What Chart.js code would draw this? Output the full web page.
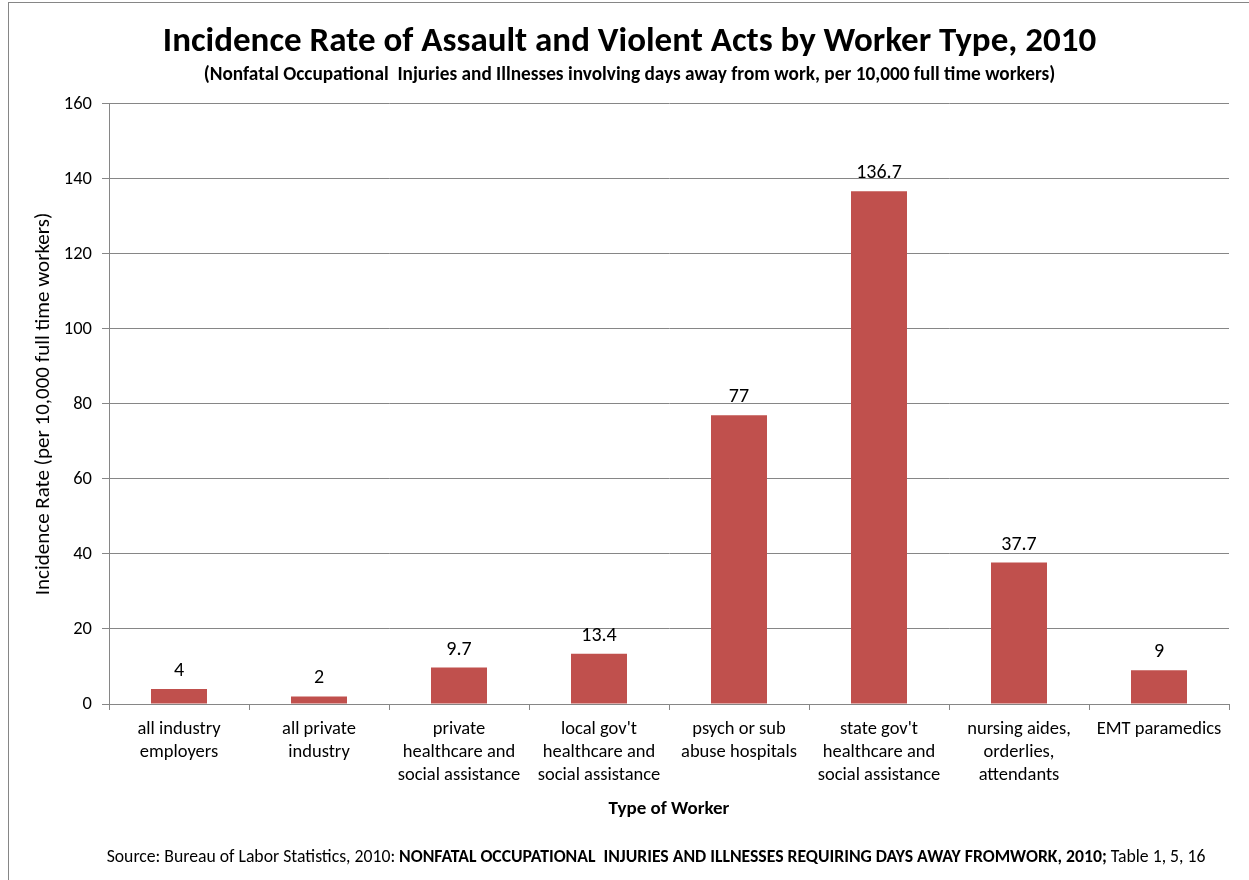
<!DOCTYPE html>
<html>
<head>
<meta charset="utf-8">
<script src="https://cdn.jsdelivr.net/npm/chart.js@4.4.1/dist/chart.umd.min.js"></script>
<style>
  html, body { margin: 0; padding: 0; background: #fff; }
  #wrap { position: relative; width: 1249px; height: 880px; }
</style>
</head>
<body>
<div id="wrap"><canvas id="c" width="1249" height="880"></canvas></div>
<script>
const categories = [
  ["all industry", "employers"],
  ["all private", "industry"],
  ["private", "healthcare and", "social assistance"],
  ["local gov't", "healthcare and", "social assistance"],
  ["psych or sub", "abuse hospitals"],
  ["state gov't", "healthcare and", "social assistance"],
  ["nursing aides,", "orderlies,", "attendants"],
  ["EMT paramedics"]
];
const incidenceRates = [4, 2, 9.7, 13.4, 77, 136.7, 37.7, 9];
const yTicks = [0, 20, 40, 60, 80, 100, 120, 140, 160];

const titleText = "Incidence Rate of Assault and Violent Acts by Worker Type, 2010";
const subtitleText = "(Nonfatal Occupational  Injuries and Illnesses involving days away from work, per 10,000 full time workers)";
const yAxisTitle = "Incidence Rate (per 10,000 full time workers)";
const xAxisTitle = "Type of Worker";
const sourceParts = [
  { text: "Source: Bureau of Labor Statistics, 2010: ", bold: false },
  { text: "NONFATAL OCCUPATIONAL  INJURIES AND ILLNESSES REQUIRING DAYS AWAY FROMWORK, 2010;", bold: true },
  { text: " Table 1, 5, 16", bold: false }
];

const FONT = "Carlito, Lato, 'Open Sans', sans-serif";
const GRID = "#868686";
const BAR = "#C0504D";

const frameAndNotes = {
  id: "frameAndNotes",
  beforeDraw(chart) {
    const ctx = chart.ctx;
    ctx.save();
    ctx.fillStyle = "#fff";
    ctx.fillRect(0, 0, chart.width, chart.height);
    ctx.strokeStyle = GRID;
    ctx.lineWidth = 1;
    ctx.strokeRect(8.5, 2.5, 1400, 1000);
    ctx.restore();
  },
  afterDraw(chart) {
    const ctx = chart.ctx;
    ctx.save();
    ctx.fillStyle = "#000";
    ctx.textBaseline = "middle";
    const size = 17.7;
    let total = 0;
    const widths = sourceParts.map(p => {
      ctx.font = (p.bold ? "bold " : "") + size + "px " + FONT;
      const w = ctx.measureText(p.text).width;
      total += w;
      return w;
    });
    let x = 656 - total / 2;
    sourceParts.forEach((p, i) => {
      ctx.font = (p.bold ? "bold " : "") + size + "px " + FONT;
      ctx.textAlign = "left";
      ctx.fillText(p.text, x, 858);
      x += widths[i];
    });
    ctx.restore();
  }
};

const valueLabels = {
  id: "valueLabels",
  afterDatasetsDraw(chart) {
    const ctx = chart.ctx;
    const meta = chart.getDatasetMeta(0);
    ctx.save();
    ctx.fillStyle = "#000";
    ctx.font = "20px " + FONT;
    ctx.textAlign = "center";
    ctx.textBaseline = "alphabetic";
    meta.data.forEach((el, i) => {
      ctx.fillText(String(chart.data.datasets[0].data[i]), el.x, el.y - 13);
    });
    ctx.restore();
  }
};

new Chart(document.getElementById("c"), {
  type: "bar",
  data: {
    labels: categories,
    datasets: [{
      data: incidenceRates,
      backgroundColor: BAR,
      borderWidth: 0,
      barPercentage: 0.4,
      categoryPercentage: 1.0
    }]
  },
  options: {
    responsive: false,
    animation: false,
    devicePixelRatio: 1,
    layout: { padding: { left: 30, right: 20, top: 0, bottom: 50 } },
    plugins: {
      legend: { display: false },
      tooltip: { enabled: false },
      title: {
        display: true,
        text: titleText,
        color: "#000",
        font: { family: FONT, size: 35, weight: "bold", lineHeight: 1.2 },
        padding: { top: 21.5, bottom: 0 }
      },
      subtitle: {
        display: true,
        text: subtitleText,
        color: "#000",
        font: { family: FONT, size: 19.3, weight: "bold", lineHeight: 1.2 },
        padding: { top: 0, bottom: 17.3 }
      }
    },
    scales: {
      x: {
        grid: {
          display: true,
          drawOnChartArea: false,
          drawTicks: true,
          tickLength: 6,
          color: GRID,
          offset: true
        },
        border: { display: true, color: GRID, width: 1 },
        ticks: {
          color: "#000",
          font: { family: FONT, size: 18.5, lineHeight: 1.24 },
          maxRotation: 0,
          minRotation: 0,
          autoSkip: false,
          padding: 8
        },
        title: {
          display: true,
          text: xAxisTitle,
          color: "#000",
          font: { family: FONT, size: 19, weight: "bold", lineHeight: 1.2 },
          padding: { top: 0, bottom: 9 }
        },
        afterFit(scale) { scale.height = 126; }
      },
      y: {
        min: 0,
        max: 160,
        afterBuildTicks(scale) { scale.ticks = yTicks.map(v => ({ value: v })); },
        grid: {
          color: GRID,
          drawTicks: true,
          tickLength: 7
        },
        border: { display: true, color: GRID, width: 1 },
        ticks: {
          color: "#000",
          font: { family: FONT, size: 18.5 },
          padding: 10
        },
        title: {
          display: true,
          text: yAxisTitle,
          color: "#000",
          font: { family: FONT, size: 21, lineHeight: 1.2 },
          padding: { top: 1, bottom: 0 }
        },
        afterFit(scale) { scale.width = 79; }
      }
    }
  },
  plugins: [frameAndNotes, valueLabels]
});
</script>
</body>
</html>
